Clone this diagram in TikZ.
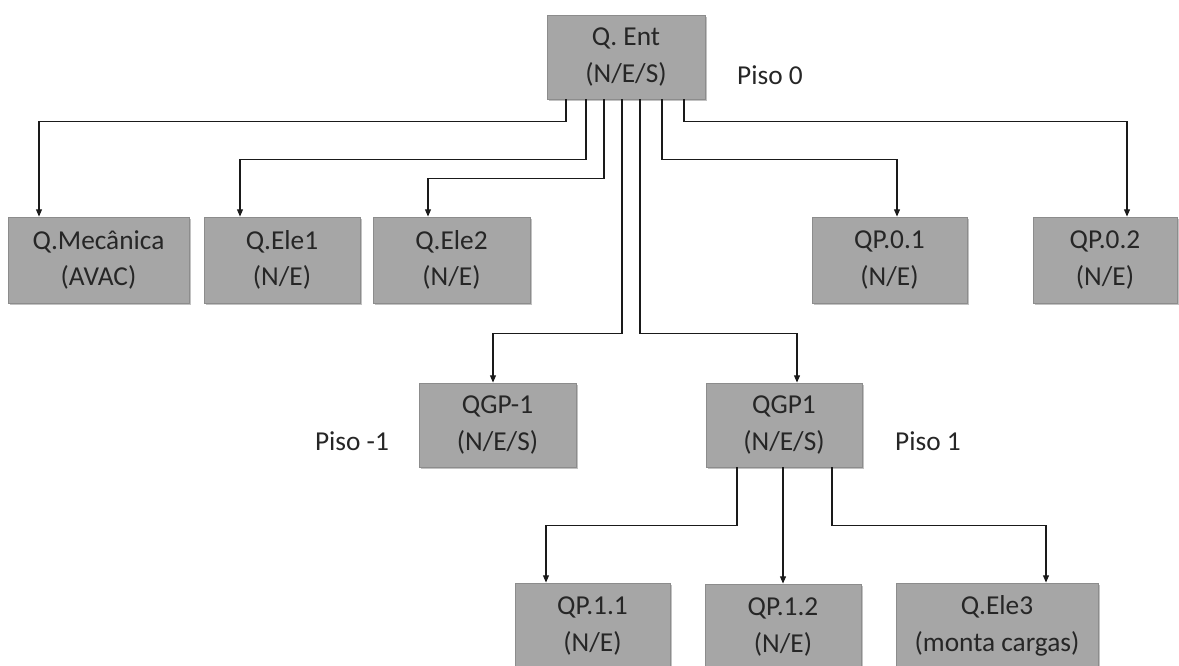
\documentclass[tikz,border=0pt]{standalone}
\usepackage{fontspec}
\setmainfont{Carlito}
\usetikzlibrary{arrows.meta,calc,shadows}
\definecolor{boxfill}{HTML}{A6A6A6}
\definecolor{boxline}{HTML}{8C8C8C}
\definecolor{txt}{HTML}{262626}
\definecolor{ln}{HTML}{1A1A1A}
\begin{document}
\begin{tikzpicture}[x=0.75pt,y=-0.75pt,
  box/.style={draw=boxline, line width=0.6pt, fill=boxfill, text=txt, align=center,
    inner sep=0pt, font=\fontsize{20.5}{27.5}\selectfont,
    drop shadow={shadow xshift=1.8pt, shadow yshift=-1.8pt, opacity=0.4, fill=black!60}},
  lbl/.style={text=txt, inner sep=0pt, font=\fontsize{20.5}{27.5}\selectfont},
  arr/.style={draw=ln, line width=0.9pt, -{Triangle[length=5.5pt,width=4.5pt]}}]
\useasboundingbox (0,0) rectangle (1179,666);
\clip (0,0) rectangle (1179,666);

% boxes
\node[box, minimum width=118.5pt, minimum height=63pt] (ent) at (626,57) {Q. Ent\\(N/E/S)};
\node[box, minimum width=135.75pt, minimum height=64.5pt] (qmec) at (98.5,260) {Q.Mecânica\\(AVAC)};
\node[box, minimum width=117pt, minimum height=64.5pt] (qele1) at (282,260) {Q.Ele1\\(N/E)};
\node[box, minimum width=117.75pt, minimum height=64.5pt] (qele2) at (451.5,260) {Q.Ele2\\(N/E)};
\node[box, minimum width=116.25pt, minimum height=64.5pt] (qp01) at (889.5,260) {QP.0.1\\(N/E)};
\node[box, minimum width=108pt, minimum height=64.5pt] (qp02) at (1105,260) {QP.0.2\\(N/E)};
\node[box, minimum width=117.75pt, minimum height=63pt] (qgpm) at (497.5,425) {QGP-1\\(N/E/S)};
\node[box, minimum width=117pt, minimum height=63pt] (qgp1) at (784,425) {QGP1\\(N/E/S)};
\node[box, minimum width=116.25pt, minimum height=64.5pt] (qp11) at (592.5,626) {QP.1.1\\(N/E)};
\node[box, minimum width=117pt, minimum height=64.5pt] (qp12) at (783,627) {QP.1.2\\(N/E)};
\node[box, minimum width=151.5pt, minimum height=64.5pt] (qele3) at (997,626) {Q.Ele3\\(monta cargas)};

% floor labels
\node[lbl, anchor=base] (p0) at (770,85) {Piso 0};
\node[lbl, anchor=base] (pm1) at (352,451) {Piso -1};
\node[lbl, anchor=base] (p1) at (928,451) {Piso 1};

% connectors from Q. Ent
\draw[arr] ($(ent.south)+(-60,0)$) -- ++(0,22) -| ($(qmec.north)+(-59.5,0)$);
\draw[arr] ($(ent.south)+(-40,0)$) -- ++(0,60) -| ($(qele1.north)+(-42,0)$);
\draw[arr] ($(ent.south)+(-22,0)$) -- ++(0,79) -| ($(qele2.north)+(-23.5,0)$);
\draw[arr] ($(ent.south)+(-4,0)$) -- ++(0,234) -| ($(qgpm.north)+(-4.5,0)$);
\draw[arr] ($(ent.south)+(14,0)$) -- ++(0,234) -| ($(qgp1.north)+(13,0)$);
\draw[arr] ($(ent.south)+(36,0)$) -- ++(0,60) -| ($(qp01.north)+(7.5,0)$);
\draw[arr] ($(ent.south)+(58,0)$) -- ++(0,22) -| ($(qp02.north)+(22,0)$);

% connectors from QGP1
\draw[arr] ($(qgp1.south)+(-47,0)$) -- ++(0,58) -| ($(qp11.north)+(-46.5,0)$);
\draw[arr] ($(qgp1.south)+(-1,0)$) -- ($(qp12.north)$);
\draw[arr] ($(qgp1.south)+(48,0)$) -- ++(0,58) -| ($(qele3.north)+(49,0)$);
\end{tikzpicture}
\end{document}
